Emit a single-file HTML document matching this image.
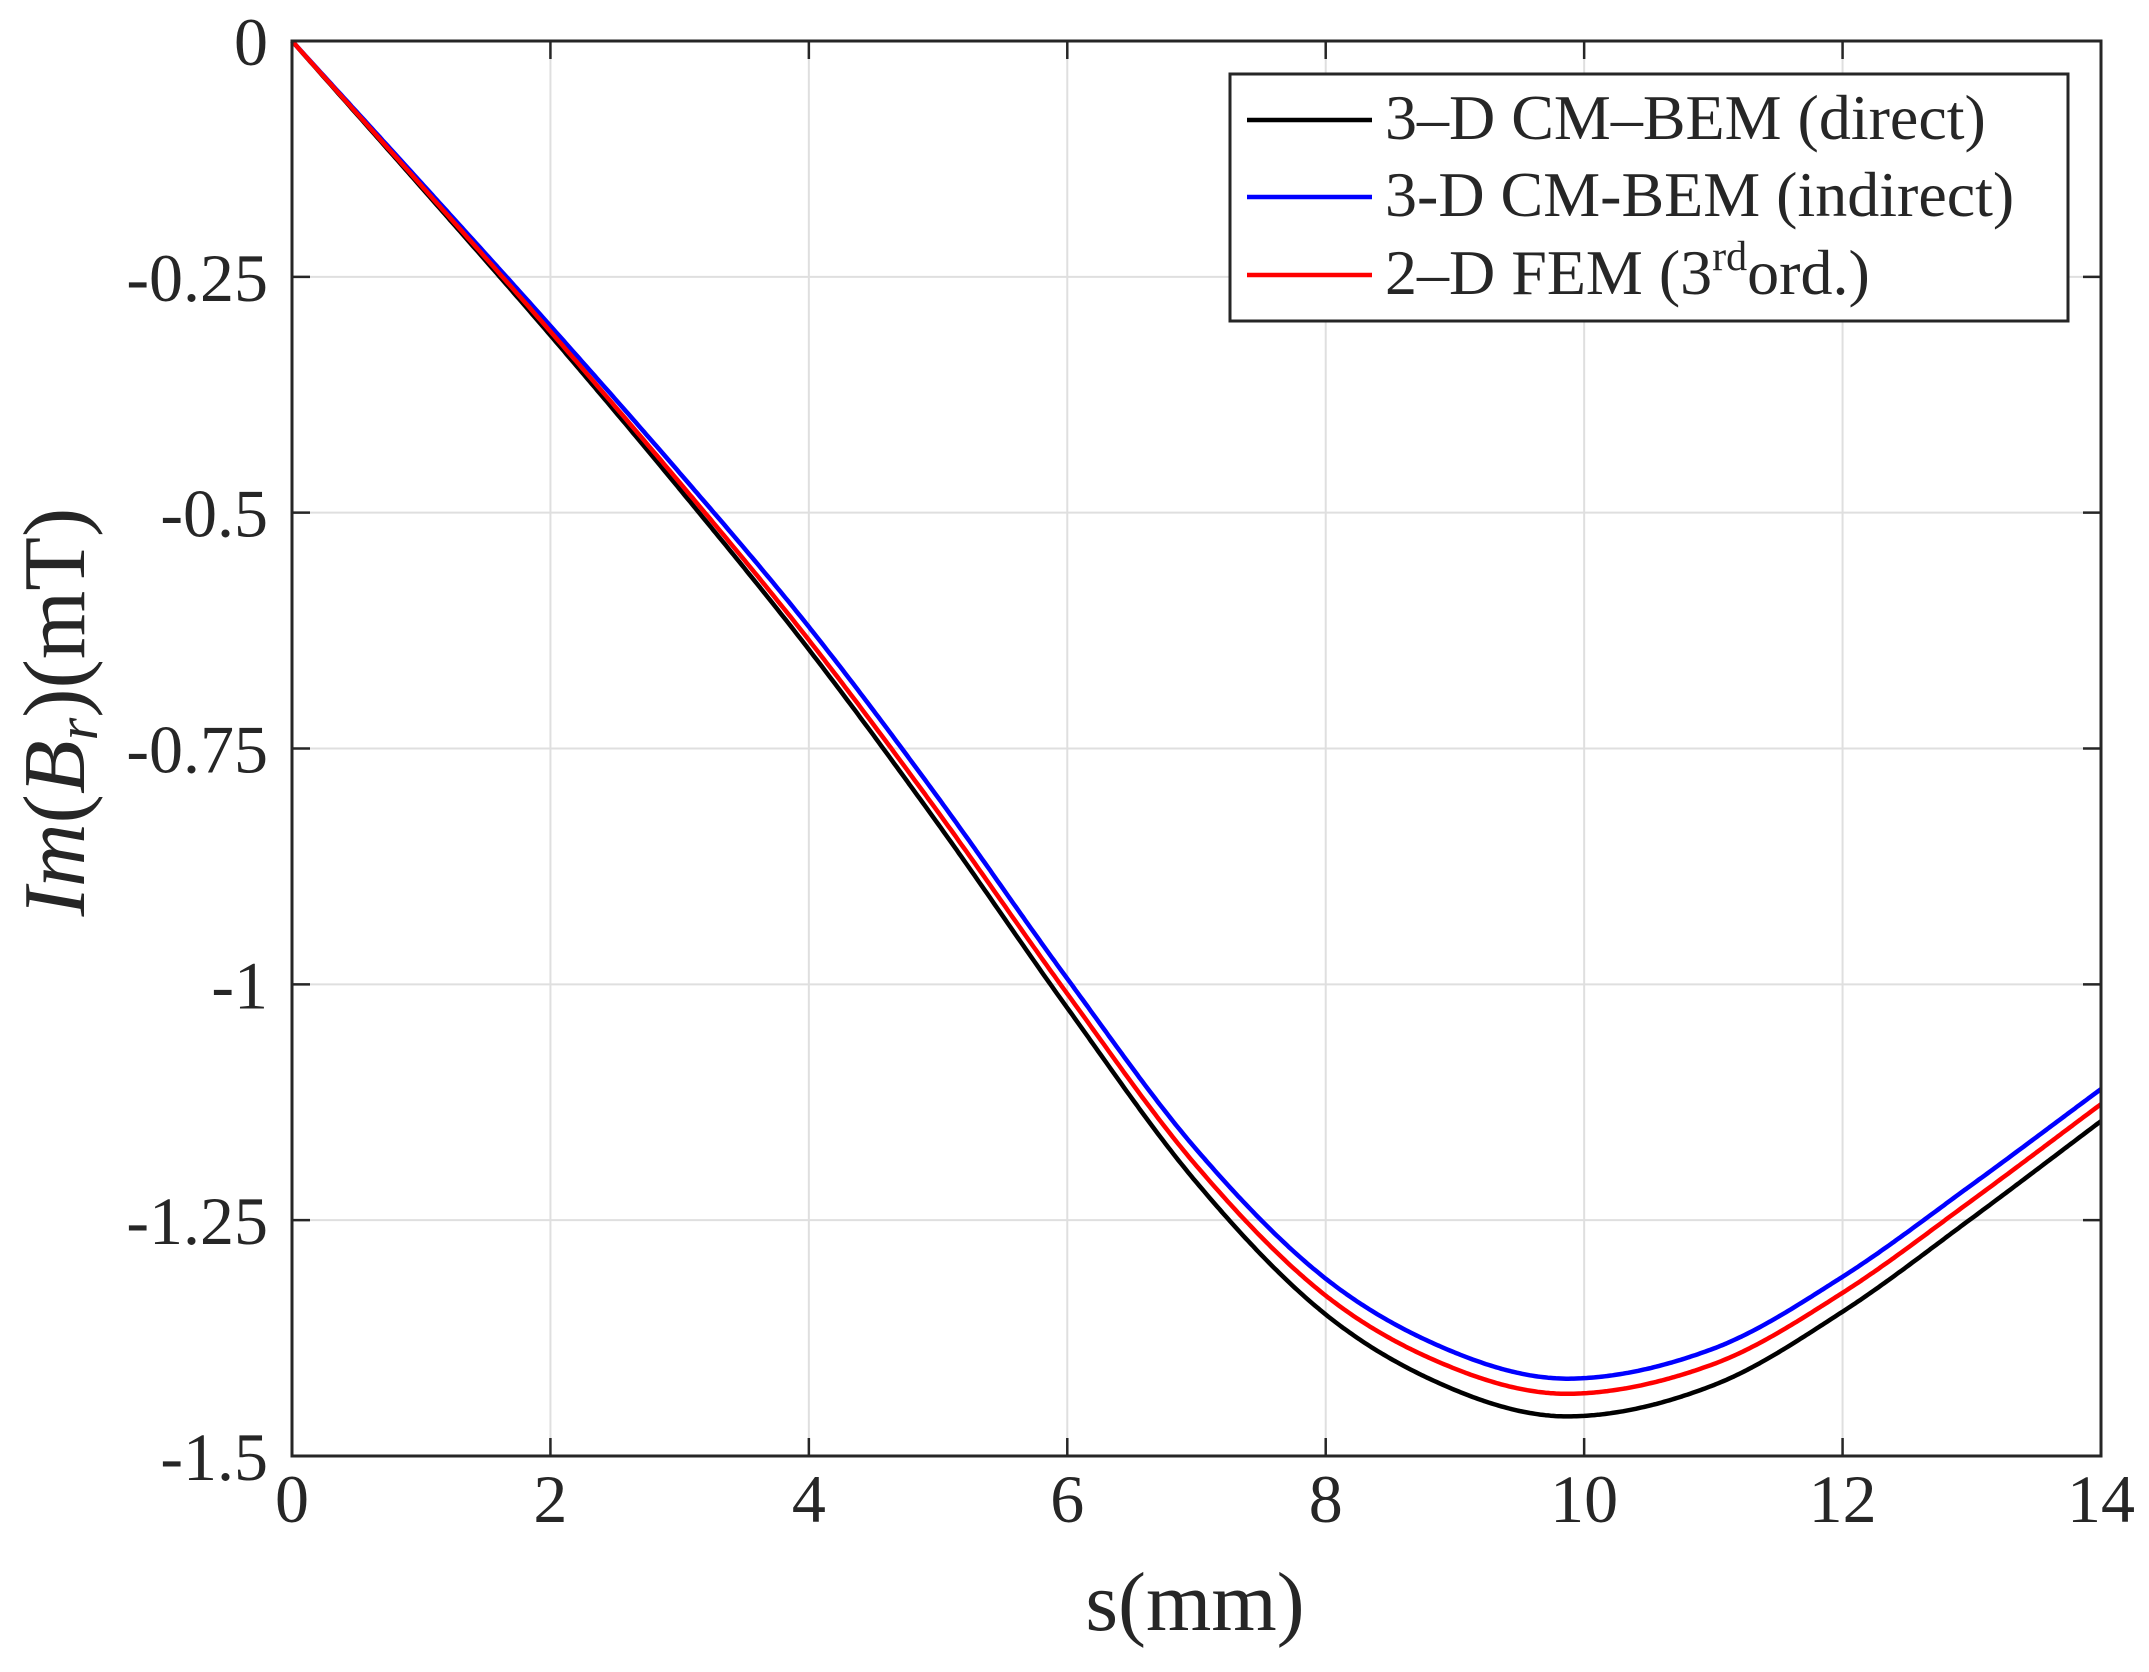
<!DOCTYPE html>
<html><head><meta charset="utf-8"><style>
html,body{margin:0;padding:0;background:#fff;}
svg{display:block;}
text{font-family:"Liberation Serif",serif;fill:#262626;}
</style></head><body>
<svg id="s" width="2149" height="1672" viewBox="0 0 2149 1672" xmlns="http://www.w3.org/2000/svg">
<rect width="2149" height="1672" fill="#fff"/>
<g id="grid" stroke="#dfdfdf" stroke-width="2"></g>
<g id="curves" fill="none" stroke-width="4.5" stroke-linejoin="round"></g>
<rect x="292" y="41" width="1809" height="1415" fill="none" stroke="#262626" stroke-width="3"/>
<g id="ticks" stroke="#262626" stroke-width="2.5"></g>
<g id="labels" font-size="68"></g>
<text x="1195" y="1630" font-size="84" text-anchor="middle">s(mm)</text>
<text transform="translate(84,712) rotate(-90)" font-size="88" text-anchor="middle"><tspan font-style="italic">Im</tspan>(<tspan font-style="italic">B</tspan><tspan font-style="italic" font-size="58" dy="13">r</tspan><tspan dy="-13">)(mT)</tspan></text>
<rect x="1230" y="74" width="838" height="247" fill="#fff" stroke="#262626" stroke-width="3"/>
<line x1="1247" y1="120" x2="1372" y2="120" stroke="#000" stroke-width="4.5"/>
<line x1="1247" y1="197" x2="1372" y2="197" stroke="#0000ff" stroke-width="4.5"/>
<line x1="1247" y1="275" x2="1372" y2="275" stroke="#ff0000" stroke-width="4.5"/>
<text x="1385" y="139" font-size="64" fill="#000">3–D CM–BEM (direct)</text>
<text x="1385" y="216" font-size="64" fill="#000">3-D CM-BEM (indirect)</text>
<text x="1385" y="294" font-size="64" fill="#000">2–D FEM (3<tspan font-size="42" dy="-24">rd</tspan><tspan dy="24">ord.)</tspan></text>
</svg>
<script>
var NS="http://www.w3.org/2000/svg";
function X(s){return 292+s*(1809/14);}
function Y(v){return 41+(-v)*(1415/1.5);}
function el(p,t,a,txt){var e=document.createElementNS(NS,t);for(var k in a)e.setAttribute(k,a[k]);if(txt!=null)e.textContent=txt;document.getElementById(p).appendChild(e);}
for(var i=0;i<=7;i++){var x=X(i*2);
 if(i>0&&i<7)el("grid","line",{x1:x,y1:41,x2:x,y2:1456});
 el("ticks","line",{x1:x,y1:1456,x2:x,y2:1438});el("ticks","line",{x1:x,y1:41,x2:x,y2:59});
 el("labels","text",{x:x,y:1522,"text-anchor":"middle"},String(i*2));}
var yl=["0","-0.25","-0.5","-0.75","-1","-1.25","-1.5"];
for(var j=0;j<=6;j++){var y=Y(-j*0.25);
 if(j>0&&j<6)el("grid","line",{x1:292,y1:y,x2:2101,y2:y});
 el("ticks","line",{x1:292,y1:y,x2:310,y2:y});el("ticks","line",{x1:2101,y1:y,x2:2083,y2:y});
 el("labels","text",{x:268,y:y+24,"text-anchor":"end"},yl[j]);}
function mk(K){return function(s){var n=K.length,i=0;while(i<n-2&&s>K[i+1][0])i++;
 var p0=K[Math.max(i-1,0)],p1=K[i],p2=K[i+1],p3=K[Math.min(i+2,n-1)];
 var h=p2[0]-p1[0],t=(s-p1[0])/h;
 var m1=(p2[1]-p0[1])/(p2[0]-p0[0])*h,m2=(p3[1]-p1[1])/(p3[0]-p1[0])*h;
 var t2=t*t,t3=t2*t;
 return (2*t3-3*t2+1)*p1[1]+(t3-2*t2+t)*m1+(-2*t3+3*t2)*p2[1]+(t3-t2)*m2;};}
var f=mk([[0,0],[1,-0.155],[2,-0.312],[3,-0.475],[4,-0.645],[5,-0.83],[6,-1.025],[7,-1.21],[8,-1.35],[9,-1.43],[9.9,-1.458],[11,-1.425],[12,-1.347],[13,-1.248],[14,-1.145]]);
var db=mk([[0,0],[2,0.01],[4,0.024],[6,0.031],[8,0.038],[10,0.04],[12,0.037],[14,0.034]]);
var dr=mk([[0,0],[2,0.004],[4,0.01],[6,0.015],[8,0.02],[10,0.024],[12,0.02],[14,0.018]]);
[["#000",null],["#0000ff",db],["#ff0000",dr]].forEach(function(c){
 var d="";for(var k=0;k<=700;k++){var s=k*14/700;var v=f(s)+(c[1]?c[1](s):0);d+=(k?"L":"M")+X(s).toFixed(1)+","+Y(v).toFixed(1);}
 el("curves","path",{d:d,stroke:c[0]});});
</script>
</body></html>
